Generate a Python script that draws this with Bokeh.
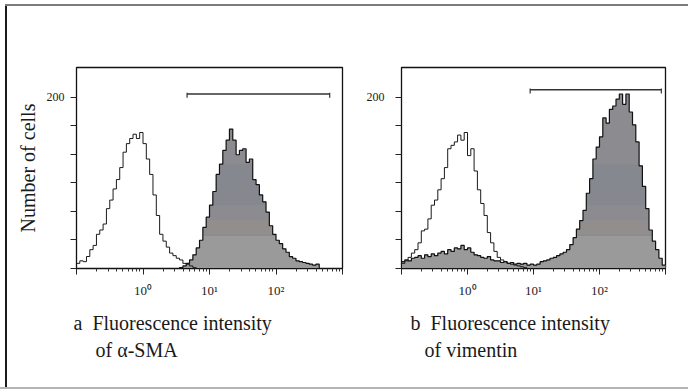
import numpy as np
from bokeh.plotting import figure
from bokeh.layouts import row, column
from bokeh.models import FixedTicker, CustomJSTickFormatter, Range1d, Title, Spacer
from bokeh.embed import file_html
from bokeh.resources import INLINE

# ---------------- data ----------------
# histogram channels: log10(fluorescence) from -1 to 3, 80 channels of 0.05 decade
channel_log_start = -1.0
channel_log_width = 0.05

# panel a: control (open) and alpha-SMA (filled)
control_a = [6, 9, 8, 14, 22, 27, 40, 45, 52, 70,
             80, 93, 104, 118, 136, 146, 152, 157, 152, 159,
             146, 128, 110, 86, 62, 40, 32, 25, 18, 15,
             12, 10, 6, 5, 3, 1, 0, 0, 0, 0,
             0, 0, 0, 0, 0, 0, 0, 0, 0, 0,
             0, 0, 0, 0, 0, 0, 0, 0, 0, 0,
             0, 0, 0, 0, 0, 0, 0, 0, 0, 0,
             0, 0, 0, 0, 0, 0, 0, 0, 0, 0]
sma_a = [0, 0, 0, 0, 0, 0, 0, 0, 0, 0,
         0, 0, 0, 0, 0, 0, 0, 0, 0, 0,
         0, 0, 0, 0, 0, 0, 0, 0, 0, 0,
         0, 1, 3, 6, 10, 16, 24, 33, 48, 60,
         74, 90, 110, 122, 138, 150, 163, 150, 133, 138,
         140, 124, 128, 104, 98, 86, 78, 66, 50, 40,
         33, 29, 23, 19, 14, 12, 9, 8, 7, 6,
         5, 4, 5, 0, 0, 0, 0, 0, 0, 0]

# panel b: control (open) and vimentin (filled)
control_b = [6, 9, 13, 18, 22, 30, 44, 46, 58, 74,
             80, 92, 105, 118, 140, 144, 148, 156, 150, 159,
             132, 140, 114, 92, 76, 62, 42, 30, 20, 13,
             10, 8, 6, 5, 4, 3, 2, 1, 0, 0,
             0, 0, 0, 0, 0, 0, 0, 0, 0, 0,
             0, 0, 0, 0, 0, 0, 0, 0, 0, 0,
             0, 0, 0, 0, 0, 0, 0, 0, 0, 0,
             0, 0, 0, 0, 0, 0, 0, 0, 0, 0]
vimentin_b = [8, 10, 9, 12, 13, 15, 12, 16, 14, 17,
              15, 18, 20, 17, 22, 20, 24, 23, 27, 22,
              24, 19, 16, 15, 13, 12, 14, 10, 9, 9,
              7, 8, 6, 7, 5, 6, 5, 6, 4, 5,
              4, 5, 8, 9, 10, 12, 13, 15, 17, 19,
              22, 28, 36, 46, 56, 68, 88, 105, 128, 142,
              154, 176, 170, 186, 190, 198, 204, 192, 204, 183,
              168, 148, 120, 96, 70, 45, 32, 22, 12, 4]

# gate markers (start, end, level)
gate_a = [4.6, 642.0, 204.0]
gate_b = [8.9, 865.0, 209.0]

# axis ticks
x_major = [0.1, 1, 10, 100, 1000]
x_major_labels = ["", "10\u2070", "10\u00b9", "10\u00b2", ""]
y_ticks = [0, 33.33, 66.67, 100, 133.33, 166.67, 200]
y_tick_labels = ["", "", "", "", "", "", "200"]

caption_a = ["a\u00a0 Fluorescence intensity", "of \u03b1-SMA"]
caption_b = ["b\u00a0 Fluorescence intensity", "of vimentin"]
y_title = "Number of cells"

# ---------------- drawing ----------------
SERIF = "Liberation Serif"
edges = 10 ** (channel_log_start + channel_log_width * np.arange(len(control_a) + 1))
x_minor = [m * d for d in [0.1, 1, 10, 100] for m in range(2, 10)]

fmt_code = """
for (let i = 0; i < vals.length; i++) {
  if (Math.abs(tick - vals[i]) <= 1e-6 * Math.max(1, Math.abs(vals[i]))) return labs[i];
}
return '';
"""

BASE_FILL = "#8c8c90"
BANDS = [(0, 38, "#9a9a9b"), (40, 56, "#928e8d"), (74, 122, "#86888f")]


def step_xy(vals):
    xs = np.repeat(edges, 2)[1:-1]
    ys = np.repeat(np.asarray(vals, dtype=float), 2)
    return xs, ys


def panel(width, filled, control, gate, left_border, right_border, label_standoff,
          with_title, captions, cap_offsets):
    p = figure(width=width, height=381, x_axis_type="log",
               x_range=Range1d(0.1, 1000), y_range=Range1d(0, 235),
               output_backend="svg", toolbar_location=None,
               min_border_left=left_border, min_border_right=right_border,
               min_border_top=61, min_border_bottom=119)
    p.grid.visible = False
    p.outline_line_color = "#111111"
    p.outline_line_width = 1.3
    p.background_fill_color = "white"
    p.border_fill_color = "white"

    xs, ys = step_xy(filled)
    p.varea(x=xs, y1=0, y2=ys, fill_color=BASE_FILL)
    for lo, hi, col in BANDS:
        p.varea(x=xs, y1=np.minimum(ys, lo), y2=np.minimum(ys, hi), fill_color=col)
    p.line(xs, ys, line_color="#111111", line_width=1.2)

    cx, cy = step_xy(control)
    p.line(cx, cy, line_color="#1a1a1a", line_width=1.0)

    g0, g1, lvl = gate
    p.segment(x0=[g0], y0=[lvl], x1=[g1], y1=[lvl], line_color="#333333", line_width=1.4)
    p.segment(x0=[g0, g1], y0=[lvl + 1.5, lvl + 1.5], x1=[g0, g1], y1=[lvl - 4.5, lvl - 4.5],
              line_color="#333333", line_width=1.2)

    xa = p.xaxis[0]
    xa.ticker = FixedTicker(ticks=x_major, minor_ticks=x_minor)
    xa.formatter = CustomJSTickFormatter(args=dict(vals=x_major, labs=x_major_labels), code=fmt_code)
    xa.major_tick_out = 6
    xa.major_tick_in = 0
    xa.minor_tick_out = 3
    xa.minor_tick_in = 0
    xa.axis_line_color = "#111111"
    xa.major_tick_line_color = "#222222"
    xa.minor_tick_line_color = "#333333"
    xa.major_label_text_font = SERIF
    xa.major_label_text_font_size = "13px"
    xa.major_label_text_color = "#222222"
    xa.major_label_standoff = 8

    ya = p.yaxis[0]
    ya.ticker = FixedTicker(ticks=y_ticks, minor_ticks=[])
    ya.formatter = CustomJSTickFormatter(args=dict(vals=y_ticks, labs=y_tick_labels), code=fmt_code)
    ya.major_tick_out = 6
    ya.major_tick_in = 0
    ya.minor_tick_out = 0
    ya.minor_tick_in = 0
    ya.axis_line_color = "#111111"
    ya.major_tick_line_color = "#222222"
    ya.major_label_text_font = SERIF
    ya.major_label_text_font_size = "12px"
    ya.major_label_text_color = "#222222"
    ya.major_label_standoff = label_standoff
    if with_title:
        ya.axis_label = y_title
        ya.axis_label_text_font = SERIF
        ya.axis_label_text_font_size = "20px"
        ya.axis_label_text_font_style = "normal"
        ya.axis_label_text_color = "#1a1a1a"
        ya.axis_label_standoff = 5

    # captions below the panel
    standoffs = [19, -13]
    for text, off, so in zip(captions, cap_offsets, standoffs):
        p.add_layout(Title(text=text, align="left", offset=off, standoff=so,
                           text_font=SERIF, text_font_size="20px",
                           text_font_style="normal", text_color="#1a1a1a"), "below")
    return p


pa = panel(337, sma_a, control_a, gate_a, 69, 2, 6, True, caption_a, [-3, 19])
pb = panel(344, vimentin_b, control_b, gate_b, 57, 23, 11, False, caption_b, [9, 23])

# outer frame of the figure sheet (thin border lines)
top_line = row(Spacer(width=5, height=2),
               Spacer(width=683, height=2, styles={"background-color": "#7c7c7c"}))
left_line = Spacer(width=2, height=381, styles={"background-color": "#1a1a1a"})
bottom_line = Spacer(width=688, height=2, styles={"background-color": "#b4b4b4"})

layout = column(
    Spacer(width=688, height=4),
    top_line,
    row(Spacer(width=5, height=381), left_line, pa, pb),
    bottom_line,
)

open("out.html", "w").write(file_html(layout, INLINE))
